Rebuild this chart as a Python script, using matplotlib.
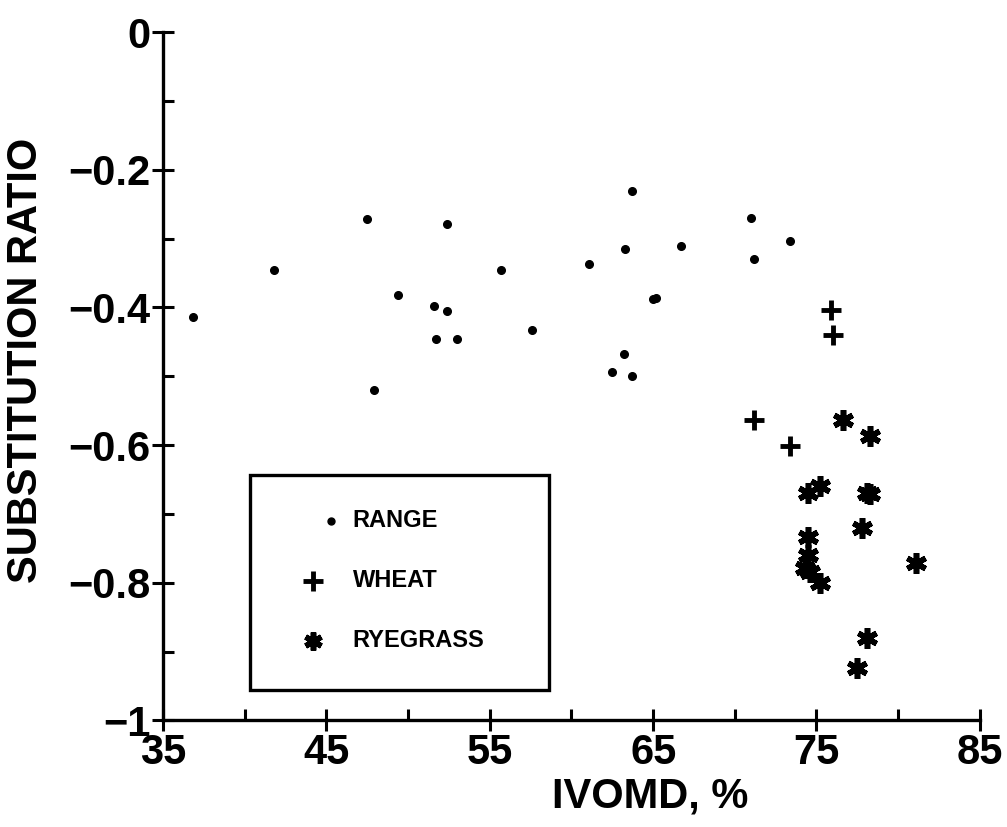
import matplotlib
matplotlib.use("Agg")
import matplotlib.pyplot as plt
from matplotlib.patches import Rectangle

plt.rcParams['font.family'] = ['Liberation Sans', 'DejaVu Sans']
plt.rcParams['font.weight'] = 'bold'

# data
range_x = [36.8, 41.8, 47.5, 47.9, 49.4, 52.4, 51.6, 52.4, 51.7, 53.0, 55.7, 57.6,
           61.1, 63.3, 63.7, 66.7, 62.5, 63.2, 63.7, 65.0, 65.2, 71.0, 71.2, 73.4]
range_y = [-0.414, -0.346, -0.272, -0.520, -0.382, -0.278, -0.398, -0.405, -0.446, -0.446, -0.346, -0.433,
           -0.337, -0.315, -0.230, -0.311, -0.494, -0.468, -0.499, -0.388, -0.386, -0.270, -0.330, -0.304]

wheat_x = [75.9, 76.0, 71.2, 73.4]
wheat_y = [-0.404, -0.440, -0.563, -0.602]

rye_x = [76.6, 78.3, 75.2, 74.5, 78.1, 78.3, 77.8, 74.5, 74.5, 74.3, 74.6, 75.2, 81.1, 78.1, 77.5]
rye_y = [-0.564, -0.587, -0.660, -0.669, -0.669, -0.671, -0.720, -0.734, -0.760, -0.778, -0.785, -0.800,
         -0.772, -0.881, -0.924]

x_ticks = [35, 45, 55, 65, 75, 85]
x_minor = [40, 50, 60, 70, 80]
y_ticks = [0, -0.2, -0.4, -0.6, -0.8, -1]
y_ticklabels = ['0', '\u22120.2', '\u22120.4', '\u22120.6', '\u22120.8', '\u22121']
y_minor = [-0.1, -0.3, -0.5, -0.7, -0.9]
legend_labels = ['RANGE', 'WHEAT', 'RYEGRASS']

fig = plt.figure(figsize=(10.07, 8.27), dpi=100)
ax = fig.add_axes([0.162, 0.129, 0.811, 0.832])

ax.plot(range_x, range_y, 'o', color='black', markersize=5.5, linestyle='none')
ax.plot(wheat_x, wheat_y, '+', color='black', markersize=15, mew=3.5, linestyle='none')
ax.plot(rye_x, rye_y, marker=(6, 2, 0), color='black', markersize=15, mew=4, linestyle='none')

ax.set_xlim(35, 85)
ax.set_ylim(-1, 0)
for s in ['top', 'right']:
    ax.spines[s].set_visible(False)
for s in ['left', 'bottom']:
    ax.spines[s].set_linewidth(2.4)

ax.set_xticks(x_ticks)
ax.set_xticks(x_minor, minor=True)
ax.set_yticks(y_ticks)
ax.set_yticklabels(y_ticklabels)
ax.set_yticks(y_minor, minor=True)
ax.tick_params(which='major', direction='inout', length=16, width=2.2, labelsize=30, pad=1)
ax.tick_params(which='minor', direction='in', length=8, width=2.2)

ax.set_xlabel('IVOMD, %', fontsize=30, fontweight='bold')
ax.set_ylabel('SUBSTITUTION RATIO', fontsize=30, fontweight='bold')
ax.xaxis.set_label_coords(0.596, -0.082)
ax.yaxis.set_label_coords(-0.144, 0.523)

# legend box
ax.add_patch(Rectangle((0.106, 0.044), 0.366, 0.312, transform=ax.transAxes,
                       fill=False, edgecolor='black', linewidth=2.4))
ax.plot([0.205], [0.290], 'o', color='black', markersize=5, transform=ax.transAxes)
ax.plot([0.183], [0.203], '+', color='black', markersize=15, mew=3.5, transform=ax.transAxes)
ax.plot([0.183], [0.116], marker=(6, 2, 0), color='black', markersize=13, mew=4, transform=ax.transAxes)
for lab, yy in zip(legend_labels, [0.290, 0.203, 0.116]):
    ax.text(0.232, yy, lab, transform=ax.transAxes, fontsize=17, fontweight='bold', va='center', ha='left')

fig.savefig('out.png', dpi=100)
